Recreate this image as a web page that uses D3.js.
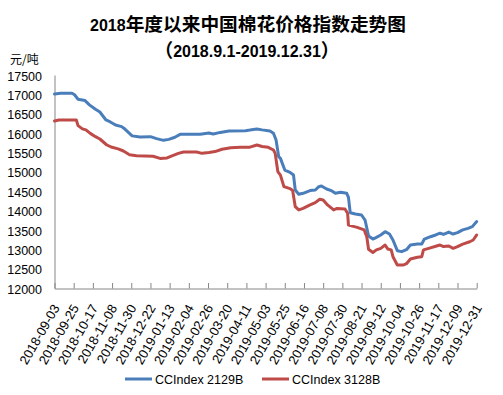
<!DOCTYPE html>
<html><head><meta charset="utf-8">
<script src="https://cdn.jsdelivr.net/npm/d3@7"></script>
<style>
html,body{margin:0;padding:0;background:#fff;}
svg{display:block;}
</style></head>
<body>
<svg id="chart" width="503" height="395"></svg>
<script>
// ---- data ----
const titleLine1 = "2018年度以来中国棉花价格指数走势图";
const titleLine2 = "（2018.9.1-2019.12.31）";
const yUnit = "元/吨";
const seriesNames = ["CCIndex 2129B", "CCIndex 3128B"];
const yTicks = [12000,12500,13000,13500,14000,14500,15000,15500,16000,16500,17000,17500];
const xTickLabels = ["2018-09-03","2018-09-25","2018-10-17","2018-11-08","2018-11-30","2018-12-22","2019-01-13","2019-02-04","2019-02-26","2019-03-20","2019-04-11","2019-05-03","2019-05-25","2019-06-16","2019-07-08","2019-07-30","2019-08-21","2019-09-12","2019-10-04","2019-10-26","2019-11-17","2019-12-09","2019-12-31"];

const dates2129 = ["2018-09-03","2018-09-10","2018-09-23","2018-09-26","2018-09-30","2018-10-08","2018-10-13","2018-10-20","2018-10-25","2018-11-01","2018-11-06","2018-11-12","2018-11-19","2018-11-23","2018-12-01","2018-12-10","2018-12-22","2018-12-29","2019-01-06","2019-01-12","2019-01-19","2019-01-25","2019-02-17","2019-02-27","2019-03-04","2019-03-12","2019-03-22","2019-04-10","2019-04-15","2019-04-23","2019-04-29","2019-05-08","2019-05-12","2019-05-15","2019-05-18","2019-05-20","2019-05-25","2019-05-31","2019-06-04","2019-06-06","2019-06-10","2019-06-15","2019-06-23","2019-06-29","2019-07-03","2019-07-06","2019-07-12","2019-07-18","2019-07-22","2019-07-28","2019-08-04","2019-08-06","2019-08-08","2019-08-14","2019-08-21","2019-08-25","2019-08-29","2019-09-03","2019-09-07","2019-09-12","2019-09-17","2019-09-22","2019-09-26","2019-10-01","2019-10-06","2019-10-12","2019-10-16","2019-10-24","2019-10-29","2019-11-01","2019-11-08","2019-11-14","2019-11-19","2019-11-23","2019-11-29","2019-12-04","2019-12-09","2019-12-15","2019-12-21","2019-12-26","2019-12-31"];
const values2129 = [17010,17030,17030,16990,16875,16840,16730,16615,16545,16340,16290,16210,16170,16100,15930,15900,15910,15860,15815,15840,15895,15970,15970,16005,15980,16020,16055,16065,16080,16110,16085,16055,16000,15825,15395,15350,15050,14990,14920,14535,14425,14450,14520,14535,14620,14640,14560,14510,14450,14475,14450,14345,13950,13915,13890,13760,13350,13270,13315,13375,13460,13400,13245,12970,12945,13005,13115,13140,13140,13270,13330,13375,13420,13390,13450,13400,13435,13505,13545,13590,13720];

const dates3128 = ["2018-09-03","2018-09-08","2018-09-28","2018-09-30","2018-10-05","2018-10-09","2018-10-14","2018-10-20","2018-10-25","2018-11-02","2018-11-08","2018-11-15","2018-11-21","2018-11-28","2018-12-06","2018-12-25","2019-01-02","2019-01-10","2019-01-15","2019-01-23","2019-01-29","2019-02-13","2019-02-19","2019-02-27","2019-03-06","2019-03-14","2019-03-24","2019-04-04","2019-04-15","2019-04-23","2019-04-29","2019-05-06","2019-05-12","2019-05-14","2019-05-17","2019-05-20","2019-05-24","2019-05-31","2019-06-03","2019-06-06","2019-06-10","2019-06-15","2019-06-23","2019-06-29","2019-07-04","2019-07-08","2019-07-13","2019-07-20","2019-07-24","2019-08-02","2019-08-05","2019-08-06","2019-08-16","2019-08-24","2019-08-27","2019-08-29","2019-09-03","2019-09-07","2019-09-12","2019-09-17","2019-09-20","2019-09-24","2019-09-26","2019-10-01","2019-10-08","2019-10-12","2019-10-16","2019-10-24","2019-10-29","2019-10-31","2019-11-06","2019-11-15","2019-11-19","2019-11-23","2019-11-29","2019-12-04","2019-12-09","2019-12-15","2019-12-23","2019-12-27","2019-12-31"];
const values3128 = [16315,16340,16340,16195,16110,16085,15995,15910,15850,15695,15635,15595,15540,15445,15420,15405,15350,15360,15410,15480,15515,15515,15480,15500,15525,15585,15625,15635,15640,15695,15655,15635,15565,15480,15010,14920,14620,14570,14520,14105,14020,14060,14150,14210,14295,14275,14150,14020,14060,14045,13935,13630,13570,13505,13330,13005,12925,12990,13030,13115,13015,12990,12815,12600,12600,12645,12755,12800,12815,12990,13030,13090,13115,13075,13090,13030,13075,13140,13200,13245,13375];

// ---- drawing ----
const parse = d3.utcParse("%Y-%m-%d");
const svg = d3.select("#chart");
const latin = "'Liberation Sans', Arial, sans-serif";
const cjk = "'Noto Sans CJK SC', sans-serif";
const axisColor = "#868686";
const colors = ["#4A7EBB", "#BE4B48"];

const x = d3.scaleUtc()
  .domain([parse(xTickLabels[0]), parse(xTickLabels[xTickLabels.length - 1])])
  .range([54.5, 476.7]);
const y = d3.scaleLinear().domain([12000, 17500]).range([288.3, 75]);

// title
function mixedText(sel, str, latinSize, cjkSize) {
  const parts = str.match(/[\u0000-\u00ff]+|[^\u0000-\u00ff]+/g);
  parts.forEach(p => {
    const isLatin = /^[\u0000-\u00ff]+$/.test(p);
    sel.append("tspan")
      .attr("font-family", isLatin ? latin : cjk)
      .attr("font-size", isLatin ? latinSize : cjkSize)
      .text(p);
  });
}
const t1 = svg.append("text").attr("x", 248).attr("y", 30.7)
  .attr("text-anchor", "middle").attr("font-weight", "bold").attr("fill", "#000");
mixedText(t1, titleLine1, 16, 18.7);
const t2 = svg.append("text").attr("x", 247).attr("y", 56.5)
  .attr("text-anchor", "middle").attr("font-weight", "bold").attr("fill", "#000");
mixedText(t2, titleLine2, 16, 18.7);

// unit
svg.append("text").attr("x", 10).attr("y", 64)
  .attr("font-family", cjk).attr("font-size", 12).attr("fill", "#000")
  .text(yUnit);

// y axis
const yAxis = d3.axisLeft(y).tickValues(yTicks).tickSize(0).tickPadding(0).tickFormat(d3.format("d"));
const gy = svg.append("g").attr("transform", "translate(54.5,0)").call(yAxis);
gy.select(".domain").attr("stroke", axisColor).attr("stroke-width", 1);
gy.selectAll(".tick text")
  .attr("x", -12.5).attr("dy", "0.4em")
  .attr("font-family", latin).attr("font-size", 12.5).attr("fill", "#000");

// x axis
const tickDates = xTickLabels.map(parse);
const xAxis = d3.axisBottom(x).tickValues(tickDates).tickSize(-5.5).tickSizeOuter(0)
  .tickFormat((d, i) => xTickLabels[i]);
const gx = svg.append("g").attr("transform", "translate(0,288.5)").call(xAxis);
gx.select(".domain").attr("stroke", axisColor).attr("stroke-width", 1);
gx.selectAll(".tick line").attr("stroke", axisColor);
gx.selectAll(".tick text")
  .attr("y", 0)
  .attr("text-anchor", "end")
  .attr("font-family", latin).attr("font-size", 13).attr("fill", "#000")
  .attr("transform", "translate(1,17) rotate(-60)")
  .attr("dy", "0.36em");

// lines
const line = d3.line().x(d => x(d[0])).y(d => y(d[1])).curve(d3.curveLinear);
const s1 = dates2129.map((d, i) => [parse(d), values2129[i]]);
const s2 = dates3128.map((d, i) => [parse(d), values3128[i]]);
[s1, s2].forEach((s, i) => {
  svg.append("path").datum(s)
    .attr("d", line)
    .attr("fill", "none")
    .attr("stroke", colors[i])
    .attr("stroke-width", 3)
    .attr("stroke-linejoin", "round")
    .attr("stroke-linecap", "round");
});

// legend
const legendX = [125, 262];
seriesNames.forEach((name, i) => {
  const g = svg.append("g").attr("transform", `translate(${legendX[i]},379)`);
  g.append("line").attr("x1", 0).attr("x2", 27).attr("y1", 0).attr("y2", 0)
    .attr("stroke", colors[i]).attr("stroke-width", 3);
  g.append("text").attr("x", 30).attr("y", 0).attr("dy", "0.36em")
    .attr("font-family", latin).attr("font-size", 12.5).attr("fill", "#000")
    .text(name);
});
</script>
</body></html>
